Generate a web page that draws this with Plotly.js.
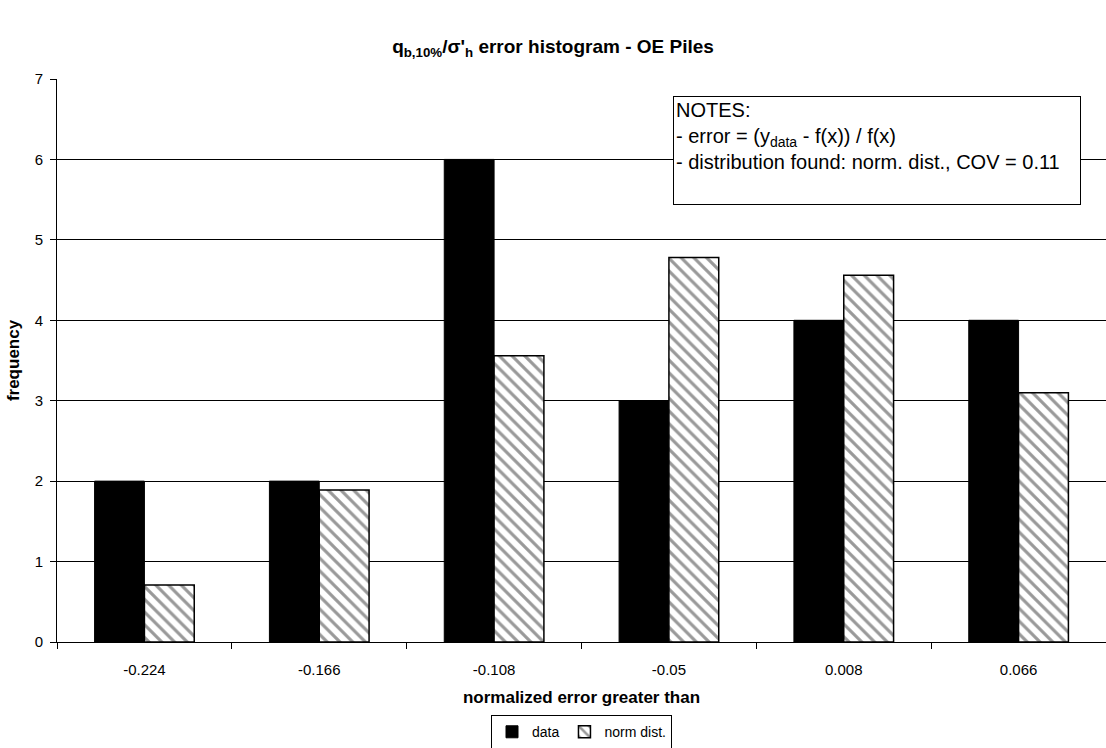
<!DOCTYPE html>
<html><head><meta charset="utf-8">
<script src="https://cdn.plot.ly/plotly-3.0.1.min.js"></script>
<style>html,body{margin:0;padding:0;background:#fff}#chart{width:1106px;height:748px}</style>
</head><body><div id="chart"></div>
<script>
const categories = ["-0.224", "-0.166", "-0.108", "-0.05", "0.008", "0.066"];
const dataValues = [2, 2, 6, 3, 4, 4];
const normValues = [0.71, 1.89, 3.56, 4.78, 4.56, 3.10];
const yTicks = [0, 1, 2, 3, 4, 5, 6, 7];

const traces = [
  {type: "bar", name: "data", x: categories, y: dataValues,
   marker: {color: "#000", line: {color: "#000", width: 1}}},
  {type: "bar", name: "norm dist.", x: categories, y: normValues,
   marker: {color: "#fff", line: {color: "#000", width: 1.5},
            pattern: {shape: "\\", fgcolor: "#999", bgcolor: "#fff", size: 9, solidity: 0.35}}}
];

const layout = {
  width: 1106, height: 748,
  margin: {l: 57, r: 0, t: 79, b: 106, autoexpand: false},
  paper_bgcolor: "#fff", plot_bgcolor: "#fff",
  font: {family: "Liberation Sans, Arial, sans-serif", size: 15, color: "#000"},
  title: {text: "<b>q<sub>b,10%</sub>/σ'<sub>h</sub> error histogram - OE Piles</b>",
          font: {size: 19}, x: 0.5, xanchor: "center", y: 0.9385, yanchor: "middle", yref: "container"},
  barmode: "group", bargap: 0.43, bargroupgap: 0,
  xaxis: {type: "category", showline: true, linecolor: "#000", linewidth: 1,
          ticks: "outside", tickson: "boundaries", ticklen: 6, tickcolor: "#000",
          ticklabelstandoff: 14, tickfont: {size: 15},
          title: {text: "<b>normalized error greater than</b>", font: {size: 17}, standoff: 14},
          showgrid: false, zeroline: false, automargin: false},
  yaxis: {range: [0, 7], tickvals: yTicks, showline: true, linecolor: "#000", linewidth: 1,
          ticks: "outside", ticklen: 6, tickcolor: "#000", ticklabelstandoff: 4, tickfont: {size: 15},
          showgrid: true, gridcolor: "#000", gridwidth: 1, zeroline: false, automargin: false,
          title: {text: "<b>frequency</b>", font: {size: 17}, standoff: 10}},
  showlegend: true,
  legend: {orientation: "h", x: 0.5, xanchor: "center", xref: "paper",
           y: -0.13, yanchor: "top", yref: "paper",
           bordercolor: "#000", borderwidth: 1, bgcolor: "#fff",
           font: {size: 14}, itemwidth: 30, traceorder: "normal"},
  annotations: [{
    xref: "paper", yref: "paper", x: 0.5872, y: 0.9698, xanchor: "left", yanchor: "top",
    align: "left", showarrow: false,
    text: "NOTES:<br>- error = (y<sub>data</sub> - f(x)) / f(x)<br>- distribution found: norm. dist., COV = 0.11<br> ",
    font: {size: 20}, bgcolor: "#fff", bordercolor: "#000", borderwidth: 1, borderpad: 2,
    width: 402, height: 103, valign: "top"
  }]
};

Plotly.newPlot("chart", traces, layout, {displayModeBar: false});
</script></body></html>
